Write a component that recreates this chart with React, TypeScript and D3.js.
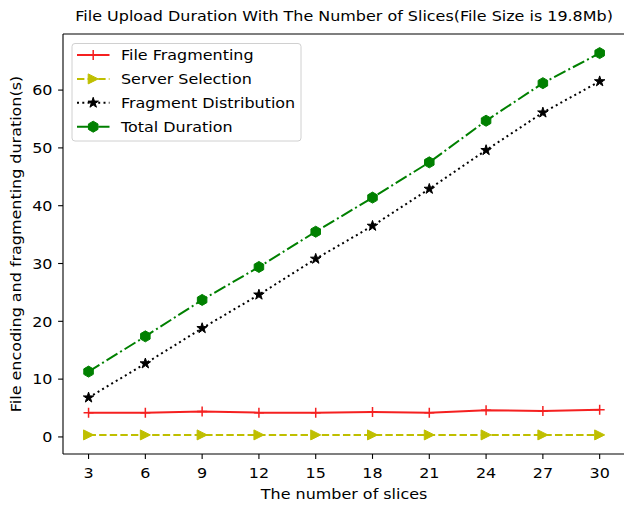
import React from "react";
import * as d3 from "d3";

const slices = [3, 6, 9, 12, 15, 18, 21, 24, 27, 30];
const fileFragmenting = [4.2, 4.2, 4.4, 4.2, 4.2, 4.3, 4.2, 4.6, 4.5, 4.7];
const serverSelection = [0.35, 0.35, 0.35, 0.35, 0.35, 0.35, 0.35, 0.35, 0.35, 0.35];
const fragmentDistribution = [6.8, 12.7, 18.8, 24.6, 30.8, 36.5, 42.9, 49.6, 56.1, 61.5];
const totalDuration = [11.3, 17.4, 23.7, 29.4, 35.5, 41.4, 47.5, 54.7, 61.2, 66.4];
const yTicks = [0, 10, 20, 30, 40, 50, 60];

const W = 624;
const H = 505;
const FONT = "DejaVu Sans";
const FS = 14.5;
const SX = 1.1;

type MarkerKind = "plus" | "tri" | "star" | "hex";

function markerPath(kind: MarkerKind, size: number): string {
  const r = size / 2;
  if (kind === "plus") return `M${-r},0H${r}M0,${-r}V${r}`;
  if (kind === "tri") return `M${r},0L${-r},${r}L${-r},${-r}Z`;
  if (kind === "hex") {
    const pts = d3.range(6).map((k) => {
      const a = ((90 + 60 * k) * Math.PI) / 180;
      return [r * Math.cos(a), -r * Math.sin(a)];
    });
    return "M" + pts.map((p) => p.join(",")).join("L") + "Z";
  }
  const pts = d3.range(10).map((k) => {
    const a = ((90 + 36 * k) * Math.PI) / 180;
    const rr = k % 2 === 0 ? r : r * 0.381966;
    return [rr * Math.cos(a), -rr * Math.sin(a)];
  });
  return "M" + pts.map((p) => p.join(",")).join("L") + "Z";
}

const series = [
  { name: "File Fragmenting", values: fileFragmenting, color: "#f52020", dash: "", marker: "plus" as MarkerKind, ms: 10 },
  { name: "Server Selection", values: serverSelection, color: "#bfbf00", dash: "7.4,3.2", marker: "tri" as MarkerKind, ms: 10 },
  { name: "Fragment Distribution", values: fragmentDistribution, color: "#000000", dash: "2,3.3", marker: "star" as MarkerKind, ms: 11 },
  { name: "Total Duration", values: totalDuration, color: "#008000", dash: "12.8,3.2,2,3.2", marker: "hex" as MarkerKind, ms: 11 },
];

function T(props: { x: number; y: number; anchor?: string; rotate?: number; children: React.ReactNode }) {
  const { x, y, anchor, rotate, children } = props;
  return (
    <g transform={`translate(${x},${y})${rotate ? ` rotate(${rotate})` : ""} scale(${SX},1)`}>
      <text x={0} y={0} fontSize={FS} textAnchor={anchor ?? "start"} fill="#000">
        {children}
      </text>
    </g>
  );
}

export default function App() {
  const left = 63;
  const top = 34;
  const bottom = 454;
  const xMin = d3.min(slices)!;
  const xMax = d3.max(slices)!;
  const xPad = (xMax - xMin) * 0.05;
  const allY = series.flatMap((s) => s.values);
  const yMin = d3.min(allY)!;
  const yMax = d3.max(allY)!;
  const yPad = (yMax - yMin) * 0.05;
  const pxPerX = 18.93;
  const right = left + (xMax - xMin + 2 * xPad) * pxPerX;

  const x = d3.scaleLinear().domain([xMin - xPad, xMax + xPad]).range([left, right]);
  const y = d3.scaleLinear().domain([yMin - yPad, yMax + yPad]).range([bottom, top]);

  const line = d3
    .line<number>()
    .x((_, i) => x(slices[i]))
    .y((v) => y(v));

  const legX = 72;
  const legY = 43.5;
  const legW = 229;
  const legH = 97.5;
  const rowY = (i: number) => 55 + i * 23.9;

  const renderMarker = (s: (typeof series)[number], cx: number, cy: number, key: string) =>
    s.marker === "plus" ? (
      <path key={key} d={markerPath("plus", s.ms)} transform={`translate(${cx},${cy})`} stroke={s.color} strokeWidth={1.5} fill="none" />
    ) : (
      <path key={key} d={markerPath(s.marker, s.ms)} transform={`translate(${cx},${cy})`} fill={s.color} stroke={s.color} strokeWidth={1} strokeLinejoin="miter" />
    );

  return (
    <svg width={W} height={H} style={{ position: "absolute", left: 0, top: 0 }} fontFamily={FONT}>
      <rect x={0} y={0} width={W} height={H} fill="#ffffff" />
      <T x={(left + right) / 2} y={21} anchor="middle">
        File Upload Duration With The Number of Slices(File Size is 19.8Mb)
      </T>

      {series.map((s) => (
        <g key={s.name}>
          <path d={line(s.values) ?? ""} fill="none" stroke={s.color} strokeWidth={2} strokeDasharray={s.dash || undefined} />
          {s.values.map((v, i) => renderMarker(s, x(slices[i]), y(v), `${s.name}-${i}`))}
        </g>
      ))}

      <line x1={left} x2={left} y1={top} y2={bottom} stroke="#000" strokeWidth={1.1} />
      <line x1={left} x2={right} y1={bottom} y2={bottom} stroke="#000" strokeWidth={1.1} />
      <line x1={left} x2={right} y1={top} y2={top} stroke="#000" strokeWidth={1.1} />
      <line x1={right} x2={right} y1={top} y2={bottom} stroke="#000" strokeWidth={1.1} />

      {slices.map((t) => (
        <g key={`xt${t}`}>
          <line x1={x(t)} x2={x(t)} y1={bottom} y2={bottom + 4.9} stroke="#000" strokeWidth={1.1} />
          <T x={x(t)} y={477.5} anchor="middle">
            {t}
          </T>
        </g>
      ))}
      {yTicks.map((t) => (
        <g key={`yt${t}`}>
          <line x1={left - 4.9} x2={left} y1={y(t)} y2={y(t)} stroke="#000" strokeWidth={1.1} />
          <T x={52.5} y={y(t) + 5.3} anchor="end">
            {t}
          </T>
        </g>
      ))}

      <T x={(left + right) / 2} y={499} anchor="middle">
        The number of slices
      </T>
      <g transform={`translate(21,${(top + bottom) / 2}) rotate(-90) scale(${SX},1)`}>
        <text x={0} y={0} fontSize={FS} textAnchor="middle" fill="#000">
          File encoding and fragmenting duration(s)
        </text>
      </g>

      <rect x={legX} y={legY} width={legW} height={legH} rx={3} fill="#ffffff" fillOpacity={0.8} stroke="#d0d0d0" strokeWidth={1} />
      {series.map((s, i) => (
        <g key={`leg${s.name}`}>
          <line x1={77} x2={109.5} y1={rowY(i)} y2={rowY(i)} stroke={s.color} strokeWidth={2} strokeDasharray={s.dash || undefined} />
          {renderMarker(s, 93.2, rowY(i), `lm${i}`)}
          <T x={121} y={rowY(i) + 5.3}>
            {s.name}
          </T>
        </g>
      ))}
    </svg>
  );
}
